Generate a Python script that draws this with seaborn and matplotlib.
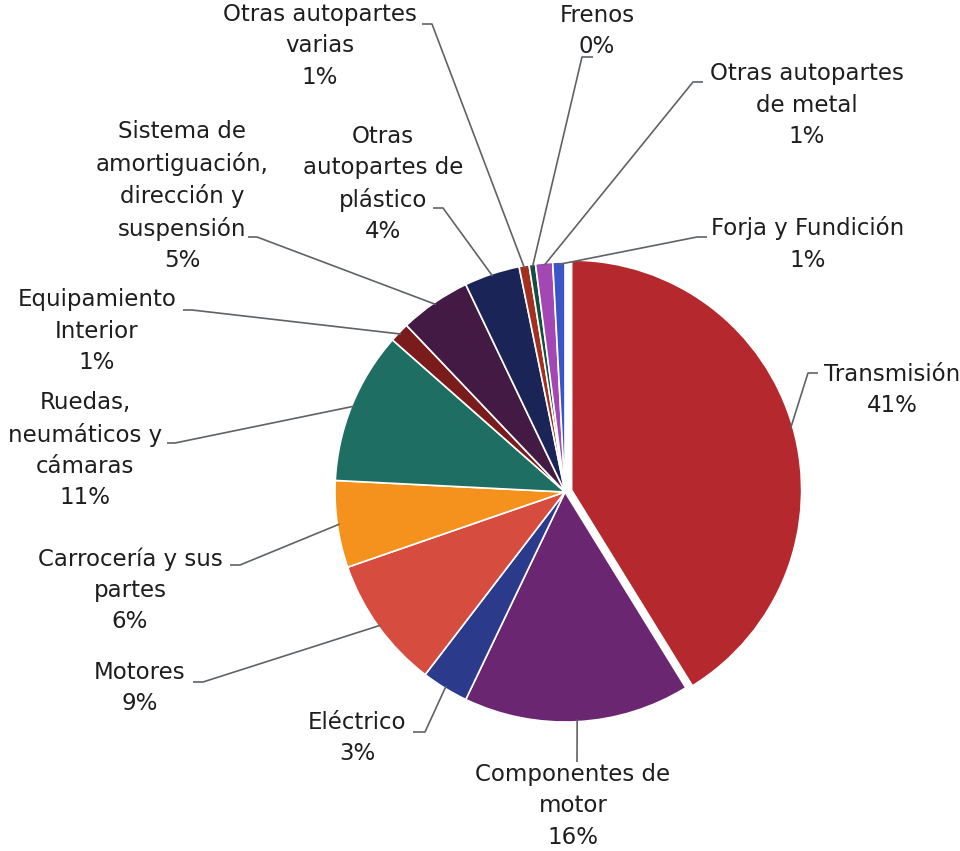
import matplotlib
matplotlib.use("Agg")
import matplotlib.pyplot as plt
import numpy as np
import seaborn as sns

categories = ['Transmisión', 'Componentes de\nmotor', 'Eléctrico', 'Motores',
              'Carrocería y sus\npartes', 'Ruedas,\nneumáticos y\ncámaras',
              'Equipamiento\nInterior',
              'Sistema de\namortiguación,\ndirección y\nsuspensión',
              'Otras\nautopartes de\nplástico', 'Otras autopartes\nvarias',
              'Frenos', 'Otras autopartes\nde metal', 'Forja y Fundición']
shares = [41.2, 15.9, 3.3, 9.3, 6.1, 10.7, 1.4, 5.0, 3.9, 0.7, 0.45, 1.2, 0.85]
colors = ['#B5292E', '#6A2670', '#2B3A8A', '#D64C3F', '#F5921E', '#1F6E63',
          '#7A1C1C', '#431A44', '#1B2456', '#A3301F', '#134F3E', '#A347B5',
          '#3B55C4']

# layout in pixels (figure 960x851): pie centre/radius, label centres, leader stubs
CX, CY, R = 565, 492, 230
label_xy = [(892, 390), (573, 806), (357, 738), (140, 688), (130, 590),
            (85, 450), (97, 331), (182, 196), (383, 184), (320, 46),
            (597, 31), (807, 105), (808, 244)]
stubs = [[(818, 373), (808, 373)], [(577, 762)], [(413, 732), (425, 732)],
         [(193, 682), (203, 682)], [(230, 565), (240, 565)],
         [(167, 443), (175, 443)], [(183, 310), (192, 310)],
         [(248, 237), (257, 237)], [(433, 208), (443, 208)],
         [(422, 24), (432, 24)], [(593, 57), (582, 57)],
         [(703, 82), (693, 82)], [(707, 237), (697, 237)]]


def px(x, y):
    return (x - CX) / R, (CY - y) / R


sns.set_theme(style='white')
plt.rcParams['font.family'] = ['DejaVu Sans']

fig = plt.figure(figsize=(9.6, 8.51), dpi=100)
ax = fig.add_axes([(CX - R) / 960, (851 - CY - R) / 851, 2 * R / 960, 2 * R / 851])

explode = [0.03] + [0] * (len(shares) - 1)
wedges, _ = ax.pie(shares, colors=colors, startangle=90, counterclock=False,
                   explode=explode, radius=1,
                   wedgeprops=dict(edgecolor='white', linewidth=1.2))
ax.set_xlim(-1, 1)
ax.set_ylim(-1, 1)
ax.axis('off')

total = sum(shares)
for w, name, share, (lx, ly), stub in zip(wedges, categories, shares, label_xy, stubs):
    ang = np.deg2rad((w.theta1 + w.theta2) / 2)
    cx, cy = w.center
    anchor = (cx + 0.99 * np.cos(ang), cy + 0.99 * np.sin(ang))
    pts = [px(*p) for p in stub] + [anchor]
    xs, ys = zip(*pts)
    ax.plot(xs, ys, color='#5f6366', lw=1.2, clip_on=False, solid_capstyle='butt')
    tx, ty = px(lx, ly)
    ax.text(tx, ty, f'{name}\n{round(share / total * 100)}%', ha='center', va='center',
            multialignment='center', fontsize=16.5, color='#1e1e1e', linespacing=1.45,
            clip_on=False)

fig.savefig('out.png', dpi=100)
